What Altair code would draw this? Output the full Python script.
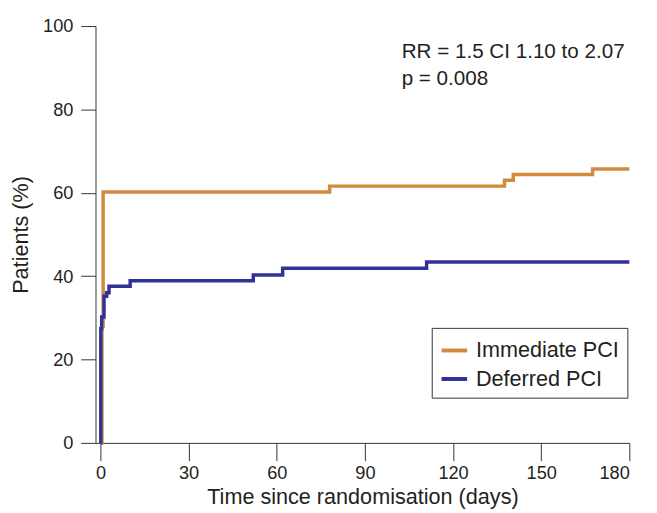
import altair as alt
import pandas as pd

# Immediate PCI (Kaplan-Meier style step curve)
imm_days = [0, 0.5, 0.9, 78, 137.5, 140.5, 167.5, 180]
imm_pct = [0, 28, 60.2, 61.6, 63.0, 64.4, 65.7, 65.7]

# Deferred PCI
def_days = [0, 0.1, 0.4, 1.2, 2.1, 2.9, 10.1, 52, 62, 111, 180]
def_pct = [0, 27.4, 30.2, 35.2, 36.0, 37.6, 38.9, 40.3, 41.9, 43.4, 43.4]

series_names = ["Immediate PCI", "Deferred PCI"]
series_colors = ["#D08B3E", "#2F3296"]

x_ticks = [0, 30, 60, 90, 120, 150, 180]
y_ticks = [0, 20, 40, 60, 80, 100]

ann_text = ["RR = 1.5 CI 1.10 to 2.07", "p = 0.008"]
ann_x = [102.5, 102.5]
ann_y = [92.3, 85.9]

FONT = "Liberation Sans"
TXT = "#231F20"

df = pd.concat([
    pd.DataFrame({"day": imm_days, "pct": imm_pct, "group": series_names[0], "o": range(len(imm_days))}),
    pd.DataFrame({"day": def_days, "pct": def_pct, "group": series_names[1], "o": range(len(def_days))}),
])

xscale = alt.Scale(domain=[-1.7, 180], nice=False, zero=False)
yscale = alt.Scale(domain=[0, 100], nice=False)

color = alt.Color(
    "group:N",
    scale=alt.Scale(domain=series_names, range=series_colors),
    legend=alt.Legend(
        title=None,
        orient="none",
        legendX=342,
        legendY=307,
        symbolType="stroke",
        symbolSize=676,
        symbolStrokeWidth=4,
        labelFontSize=22,
        labelFont=FONT,
        labelColor=TXT,
        labelOffset=7,
        strokeColor="#333333",
        padding=8,
        rowPadding=3,
        fillColor="white",
    ),
)

lines = alt.Chart(df).mark_line(interpolate="step-after", strokeWidth=3.5, strokeCap="butt").encode(
    x=alt.X(
        "day:Q",
        scale=xscale,
        axis=alt.Axis(
            values=x_ticks,
            title="Time since randomisation (days)",
            tickSize=18,
            labelPadding=3,
            titlePadding=5,
            grid=False,
        ),
    ),
    y=alt.Y(
        "pct:Q",
        scale=yscale,
        axis=alt.Axis(
            values=y_ticks,
            title="Patients (%)",
            tickSize=15,
            labelPadding=8,
            titlePadding=10,
            grid=False,
        ),
    ),
    color=color,
    order="o:Q",
)

ann_df = pd.DataFrame({"t": ann_text, "x": ann_x, "y": ann_y})
ann = alt.Chart(ann_df).mark_text(
    align="left", baseline="alphabetic", fontSize=21, font=FONT, color=TXT
).encode(x=alt.X("x:Q", scale=xscale), y=alt.Y("y:Q", scale=yscale), text="t:N")

chart = alt.layer(lines, ann).properties(
    width=543,
    height=424,
    autosize=alt.AutoSizeParams(type="none"),
    padding={"left": 89, "top": 14, "right": 20, "bottom": 70},
).configure_view(stroke=None).configure_axis(
    domainColor="#333333",
    tickColor="#333333",
    domainWidth=1,
    tickWidth=1,
    labelFont=FONT,
    titleFont=FONT,
    labelFontSize=18.5,
    titleFontSize=22,
    labelColor=TXT,
    titleColor=TXT,
    titleFontWeight="normal",
)

chart.save("out.html", embed_options={"renderer": "svg", "actions": False})
